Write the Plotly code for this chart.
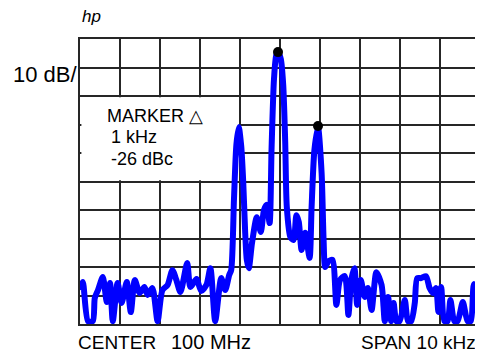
import plotly.graph_objects as go

# frequency offset from center (kHz) and level (dB, ref 0 at top, 10 dB/div)
freq_khz = [-5.00, -4.93, -4.80, -4.68, -4.63, -4.55, -4.43, -4.33, -4.25, -4.18,
            -4.06, -3.96, -3.83, -3.73, -3.63, -3.51, -3.39, -3.31, -3.19, -3.06,
            -2.94, -2.81, -2.69, -2.59, -2.49, -2.32, -2.24, -2.09, -1.97, -1.84,
            -1.74, -1.62, -1.47, -1.37, -1.27, -1.22, -1.15, -1.09, -1.03, -0.97,
            -0.92, -0.87, -0.83, -0.78, -0.70, -0.58, -0.48, -0.40, -0.33, -0.26,
            -0.21, -0.15, -0.09, -0.04, 0.02, 0.08, 0.13, 0.17, 0.26, 0.34,
            0.41, 0.47, 0.54, 0.63, 0.74, 0.79, 0.86, 0.95, 1.04, 1.09,
            1.13, 1.21, 1.31, 1.41, 1.50, 1.62, 1.71, 1.78, 1.86, 1.93,
            2.02, 2.12, 2.20, 2.29, 2.41, 2.54, 2.62, 2.70, 2.78, 2.84,
            2.91, 2.99, 3.12, 3.20, 3.28, 3.37, 3.43, 3.53, 3.65, 3.74,
            3.82, 3.90, 3.96, 4.03, 4.11, 4.19, 4.26, 4.36, 4.44, 4.57,
            4.69, 4.77, 4.85, 4.94, 5.00]
level_db = [-88.1, -85.3, -99.0, -99.0, -90.9, -88.1, -83.5, -92.3, -85.6, -99.0,
            -85.6, -92.6, -85.3, -95.8, -84.6, -89.1, -87.0, -89.8, -87.4, -99.0,
            -88.1, -86.3, -81.1, -84.6, -88.8, -78.6, -87.0, -84.2, -88.4, -86.3,
            -80.4, -99.0, -83.9, -88.1, -82.8, -81.1, -56.0, -37.0, -31.0, -37.5,
            -50.0, -68.0, -77.5, -80.4, -71.6, -62.5, -67.7, -60.0, -58.2, -64.6,
            -38.0, -14.0, -5.5, -4.8, -7.0, -16.0, -36.0, -58.9, -69.5, -70.5,
            -61.8, -64.2, -74.0, -68.0, -76.8, -59.0, -39.0, -31.0, -47.0, -70.5,
            -80.0, -78.0, -77.5, -93.3, -84.6, -83.2, -96.8, -84.6, -80.4, -93.3,
            -84.6, -90.5, -87.4, -95.1, -81.8, -86.3, -99.0, -90.5, -99.0, -92.6,
            -99.0, -99.0, -91.6, -99.0, -99.0, -92.6, -83.9, -83.9, -83.2, -87.4,
            -89.1, -87.4, -95.8, -87.0, -99.0, -99.0, -91.6, -99.0, -99.0, -92.3,
            -99.0, -99.0, -86.0, -88.1, -90.5]

# marker positions (reference peak and delta marker)
marker_khz = [-0.05, 0.95]
marker_db = [-4.6, -30.5]

GRID = "#262626"
FONT = "Arial, Liberation Sans, sans-serif"

fig = go.Figure()
fig.add_trace(go.Scatter(
    x=freq_khz, y=level_db, mode="lines",
    line=dict(color="#0000ff", width=6, shape="spline", smoothing=0.7),
    hoverinfo="skip", showlegend=False))
fig.add_trace(go.Scatter(
    x=marker_khz, y=marker_db, mode="markers",
    marker=dict(color="black", size=10), showlegend=False, hoverinfo="skip"))

axis_common = dict(showticklabels=False, ticks="", zeroline=False,
                   showgrid=True, gridcolor=GRID, gridwidth=2,
                   showline=True, linecolor=GRID, linewidth=2, mirror=True)
fig.update_xaxes(range=[-5, 5], dtick=1, tick0=-5, **axis_common)
fig.update_yaxes(range=[-100, 0], dtick=10, tick0=0, **axis_common)

# blank box behind the marker readout (grid hidden there)
fig.add_shape(type="rect", xref="x", yref="y", x0=-4.965, x1=-1.035,
              y0=-49.55, y1=-20.45, fillcolor="white", line_width=0,
              layer="between")

ann = []
def add(text, x, y, xa, size, style="normal"):
    ann.append(dict(text=text, x=x, y=y, xref="paper", yref="paper",
                    xanchor=xa, yanchor="middle", showarrow=False, borderpad=0,
                    font=dict(family=FONT, size=size, color="black", style=style)))

add("hp", 0.028, 1.078, "center", 17, "italic")
add("10 dB/", -0.006, 0.877, "right", 22)
add("MARKER \u25b3", 0.064, 0.73, "left", 18)
add("1 kHz", 0.074, 0.655, "left", 18)
add("-26 dBc", 0.074, 0.578, "left", 18)
add("CENTER", -0.008, -0.064, "left", 19)
add("100 MHz", 0.226, -0.064, "left", 20)
add("SPAN 10 kHz", 0.992, -0.064, "right", 19)

# page body has an 8px margin: shrink the figure so the plot lands in place
fig.update_layout(
    width=475, height=345,
    margin=dict(l=72, r=1, t=31, b=29),
    paper_bgcolor="white", plot_bgcolor="white",
    annotations=ann, font=dict(family=FONT))

fig.write_html("out.html")
